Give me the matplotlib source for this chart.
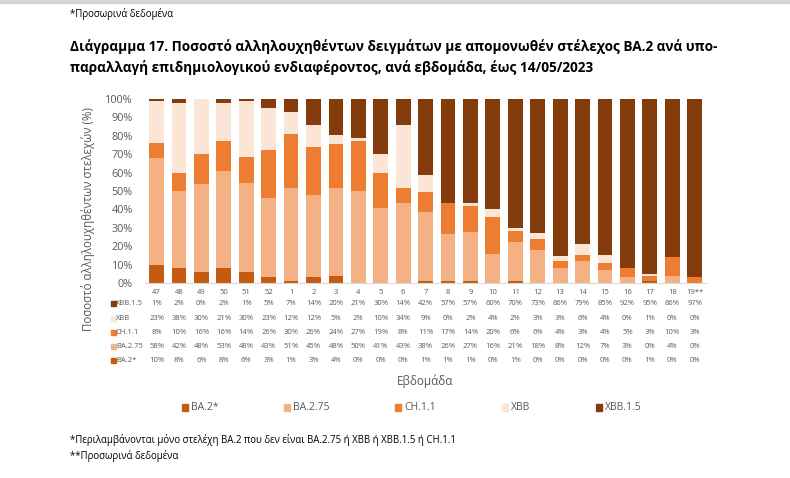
import numpy as np
import matplotlib
matplotlib.use("Agg")
from matplotlib import pyplot as plt
from matplotlib.transforms import blended_transform_factory

plt.rcParams['font.family'] = ['Open Sans', 'DejaVu Sans']

# week labels and share (%) of each sub-lineage
weeks = ['47', '48', '49', '50', '51', '52', '1', '2', '3', '4', '5', '6', '7', '8', '9', '10',
         '11', '12', '13', '14', '15', '16', '17', '18', '19**']
ba2 = [10, 8, 6, 8, 6, 3, 1, 3, 4, 0, 0, 0, 1, 1, 1, 0, 1, 0, 0, 0, 0, 0, 1, 0, 0]
ba275 = [58, 42, 48, 53, 48, 43, 51, 45, 48, 50, 41, 43, 38, 26, 27, 16, 21, 18, 8, 12, 7, 3, 0, 4, 0]
ch11 = [8, 10, 16, 16, 14, 26, 30, 26, 24, 27, 19, 8, 11, 17, 14, 20, 6, 6, 4, 3, 4, 5, 3, 10, 3]
xbb = [23, 38, 30, 21, 30, 23, 12, 12, 5, 2, 10, 34, 9, 0, 2, 4, 2, 3, 3, 6, 4, 0, 1, 0, 0]
xbb15 = [1, 2, 0, 2, 1, 5, 7, 14, 20, 21, 30, 14, 42, 57, 57, 60, 70, 73, 86, 79, 85, 92, 95, 86, 97]

names = ['BA.2*', 'BA.2.75', 'CH.1.1', 'XBB', 'XBB.1.5']
colors = ['#C55A11', '#F4B183', '#ED7D31', '#FBE5D6', '#843C0C']

series = np.array([ba2, ba275, ch11, xbb, xbb15], dtype=float)
shares = series / series.sum(axis=0) * 100

fig = plt.figure(figsize=(7.9, 4.78), dpi=100)
ax = fig.add_axes([0.184, 0.408, 0.7095, 0.385])

# faint shadow along the top edge
fig.patches.append(plt.Rectangle((0, 1 - 2.5 / 478), 1, 2.5 / 478, color='#D4D4D4',
                                 transform=fig.transFigure))

x = np.arange(len(weeks))
bottom = np.zeros(len(weeks))
for vals, name, col in zip(shares, names, colors):
    ax.bar(x, vals, bottom=bottom, width=0.66, color=col, label=name)
    bottom += vals

ax.set_xlim(-0.5, len(weeks) - 0.5)
ax.set_ylim(0, 100)
ax.set_yticks(range(0, 101, 10))
ax.set_yticklabels([f'{v}%' for v in range(0, 101, 10)], fontsize=7.8, color='#595959')
ax.set_xticks(x)
ax.set_xticklabels(weeks, fontsize=5.5, color='#595959')
ax.tick_params(axis='y', length=0, pad=9)
ax.tick_params(axis='x', length=0, pad=4)
for s in ['top', 'right', 'left']:
    ax.spines[s].set_visible(False)
ax.spines['bottom'].set_color('#D9D9D9')

# data table under the bars
trans = blended_transform_factory(ax.transData, fig.transFigure)
rows = list(zip(names, colors, [ba2, ba275, ch11, xbb, xbb15]))[::-1]
row_y = [303.5, 318, 332, 346, 360]
for (name, col, vals), py in zip(rows, row_y):
    yf = 1 - py / 478
    fig.patches.append(plt.Rectangle((111 / 790, yf - 0.006), 0.006, 0.011, color=col,
                                     transform=fig.transFigure))
    fig.text(116 / 790, yf, name, fontsize=5.5, color='#595959', va='center')
    for xi, v in zip(x, vals):
        ax.text(xi, yf, f'{v}%', transform=trans, fontsize=5.5, color='#595959',
                ha='center', va='center')

fig.text(88 / 790, 1 - 219 / 478, 'Ποσοστό αλληλουχηθέντων στελεχών (%)', rotation=90,
         fontsize=8.3, color='#595959', ha='center', va='center')
fig.text(425 / 790, 1 - 381 / 478, 'Εβδομάδα', fontsize=8.5, color='#595959',
         ha='center', va='center')

# legend
leg_x = [182, 284, 395, 502, 596]
for name, col, lx in zip(names, colors, leg_x):
    yf = 1 - 407 / 478
    fig.patches.append(plt.Rectangle((lx / 790, yf - 0.008), 0.0075, 0.014, color=col,
                                     transform=fig.transFigure))
    fig.text((lx + 9) / 790, yf, name, fontsize=7.5, color='#595959', va='center')

fig.text(70 / 790, 1 - 14 / 478, '*Προσωρινά δεδομένα', fontsize=6.9, va='center')
fig.text(70 / 790, 1 - 47 / 478,
         'Διάγραμμα 17. Ποσοστό αλληλουχηθέντων δειγμάτων με απομονωθέν στέλεχος ΒΑ.2 ανά υπο-',
         fontsize=9.8, fontweight='bold', va='center')
fig.text(70 / 790, 1 - 67 / 478,
         'παραλλαγή επιδημιολογικού ενδιαφέροντος, ανά εβδομάδα, έως 14/05/2023',
         fontsize=9.8, fontweight='bold', va='center')
fig.text(70 / 790, 1 - 440 / 478,
         '*Περιλαμβάνονται μόνο στελέχη ΒΑ.2 που δεν είναι ΒΑ.2.75 ή ΧΒΒ ή ΧΒΒ.1.5 ή CH.1.1',
         fontsize=6.9, va='center')
fig.text(70 / 790, 1 - 456 / 478, '**Προσωρινά δεδομένα', fontsize=6.9, va='center')

fig.savefig('out.png', dpi=100)
